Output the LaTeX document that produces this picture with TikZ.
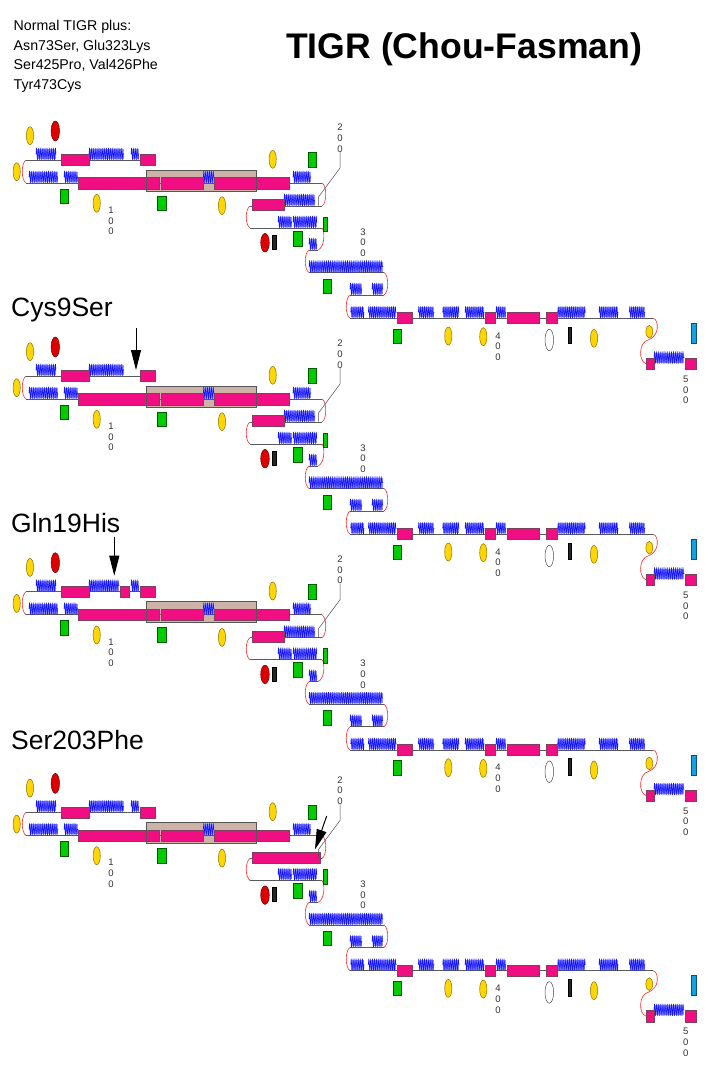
\documentclass[tikz,border=0pt]{standalone}
\usepackage{fontspec}
\setmainfont{Liberation Sans}
\usetikzlibrary{decorations.pathmorphing,arrows.meta}
\definecolor{hxc}{RGB}{20,20,255}
\definecolor{hxf}{RGB}{150,150,255}
\definecolor{stf}{RGB}{240,14,130}
\definecolor{std}{RGB}{125,65,95}
\definecolor{boxf}{RGB}{205,178,168}
\definecolor{boxd}{RGB}{85,85,85}
\definecolor{yelf}{RGB}{255,215,0}
\definecolor{yeld}{RGB}{140,110,0}
\definecolor{redf}{RGB}{220,0,0}
\definecolor{redd}{RGB}{110,0,0}
\definecolor{grnf}{RGB}{0,204,0}
\definecolor{grnd}{RGB}{0,90,0}
\definecolor{cyf}{RGB}{20,160,225}
\definecolor{cyd}{RGB}{10,80,120}
\definecolor{coilc}{RGB}{90,90,90}
\definecolor{turnc}{RGB}{255,40,40}
\definecolor{digc}{RGB}{50,50,50}
\tikzset{
 helixst/.style={draw=hxc, line width=0.55pt, decorate, decoration={zigzag, segment length=1.9pt, amplitude=6pt}},
 helixbg/.style={fill=hxf},
 strandst/.style={fill=stf, draw=std, line width=0.6pt},
 coilst/.style={draw=coilc, line width=0.7pt},
 turnst/.style={draw=turnc, line width=0.6pt},
 yel/.style={fill=yelf, draw=yeld, line width=0.5pt},
 rede/.style={fill=redf, draw=redd, line width=0.5pt},
 whe/.style={fill=white, draw=black!70, line width=0.5pt},
 grn/.style={fill=grnf, draw=grnd, line width=0.5pt},
 cyn/.style={fill=cyf, draw=cyd, line width=0.5pt},
 blk/.style={fill=black!85, draw=black},
 tickst/.style={draw=black!70, line width=0.5pt},
 digit/.style={text=digc, font=\fontsize{9.5}{10.7}\selectfont, align=center, inner sep=0pt},
 mutarrow/.style={draw=black, line width=1pt, -{Triangle[length=20pt,width=10pt]}},
 bigtxt/.style={anchor=base west, inner sep=0pt, font=\fontsize{26.5}{26.5}\selectfont},
 hdrtxt/.style={anchor=base west, inner sep=0pt, font=\fontsize{14.2}{14.2}\selectfont}
}
\newcommand\Hx[3]{\fill[helixbg] (#1+0.5,#3-11) rectangle (#2-0.5,#3-1); \draw[helixst] (#1,#3-6) -- (#2,#3-6);}
\newcommand\Sd[3]{\draw[strandst] (#1,#3-5.6) rectangle (#2,#3+5.6);}
\newcommand\Cl[3]{\draw[coilst] (#1,#3) -- (#2,#3);}
\newcommand\Tn[5]{\draw[turnst] (#1,#2) .. controls (#5,#2+3) and (#5,#4-3) .. (#3,#4);}
\newcommand\Ell[5]{\draw[#1] (#2,#3) ellipse [x radius=#4pt, y radius=#5pt];}
\newcommand\Panel[2]{%
 \begin{scope}[yshift=-#1pt]
 \fill[boxf] (146,170) rectangle (256,191);
 % coil lines
 \Cl{26}{155}{160}
 \Cl{26}{322}{183}
 \Cl{250}{322}{206}
 \Cl{250}{322}{228}
 \Cl{309}{318}{250}
 \Cl{309}{384}{272.5}
 \Cl{350}{384}{295}
 \Cl{350}{653.3}{318.3}
 % turns
 \Tn{26}{160}{26}{183}{21}
 \Tn{322}{183}{322}{206}{327}
 \Tn{250}{206}{250}{228}{245}
 \Tn{322}{228}{318}{250}{325}
 \Tn{309}{250}{309}{272.5}{304}
 \Tn{384}{272.5}{384}{295}{389}
 \Tn{350}{295}{350}{318.3}{345}
 \draw[turnst] (653.3,318.3) .. controls (659,320) and (660,336) .. (648,340) .. controls (639,342) and (638,361) .. (646,363.8);
 % row 1
 \Hx{36}{56}{160}
 \ifnum#2=2\relax
   \Hx{89}{119.3}{160}
   \Sd{120}{129}{160}
 \else
   \Hx{89}{124}{160}
 \fi
 \ifnum#2=1\relax\else \Hx{131}{139}{160}\fi
 \Sd{61}{89}{160}
 \Sd{140}{155}{160}
 % row 2
 \Hx{29}{58}{183}
 \Hx{64}{78}{183}
 \Hx{203.3}{214.3}{183}
 \Hx{293}{311}{183}
 \Sd{78}{159.3}{183.3}
 \Sd{161.7}{203.3}{183.3}
 \Sd{214.3}{289.3}{183.3}
 % row 3
 \ifnum#2=3\relax
   \Sd{252.5}{320}{205}
 \else
   \Hx{284}{315}{206}
   \Sd{252}{284}{205}
 \fi
 % row 4 - 7
 \Hx{278}{292}{228}
 \Hx{293}{317}{228}
 \Hx{309}{317}{250}
 \Hx{309}{383}{272.5}
 \Hx{350}{362}{295}
 \Hx{372}{383}{295}
 % row 8
 \Hx{350.7}{364}{318.3}
 \Hx{368.3}{396.7}{318.3}
 \Hx{418.3}{434.3}{318.3}
 \Hx{442.7}{459.3}{318.3}
 \Hx{465}{484.3}{318.3}
 \Hx{496}{506}{318.3}
 \Hx{557.7}{585.7}{318.3}
 \Hx{599}{618.3}{318.3}
 \Hx{629.3}{645}{318.3}
 \Sd{397}{412.3}{318}
 \Sd{485}{495.7}{318}
 \Sd{507.3}{539.3}{318}
 \Sd{546}{557.3}{318}
 % row 9
 \Hx{654}{684.3}{363.5}
 \Sd{646}{654}{363.8}
 \Sd{685}{696}{363.8}
 % box border
 \draw[draw=boxd, line width=0.7pt] (146,170) rectangle (256,191);
 % symbols
 \Ell{yel}{30}{135.7}{3.6}{9}
 \Ell{rede}{55.3}{131}{4.2}{10}
 \Ell{yel}{16.7}{171.7}{3.6}{9}
 \Ell{yel}{272.7}{159.3}{3.6}{9}
 \Ell{yel}{96.7}{203.3}{3.6}{9}
 \Ell{yel}{222}{205.7}{3.6}{9}
 \Ell{rede}{265}{242.7}{4.3}{9.3}
 \Ell{yel}{448.3}{336}{3.6}{9}
 \Ell{yel}{483.3}{336.7}{3.6}{9}
 \Ell{whe}{549.3}{340}{4.3}{10.8}
 \Ell{yel}{594}{338.3}{3.6}{9}
 \Ell{yel}{649.3}{331.7}{3.4}{6.4}
 \draw[grn] (308.3,152.7) rectangle (316.7,167.3);
 \draw[grn] (60,189) rectangle (68.3,203.7);
 \draw[grn] (157.3,196) rectangle (166,210.7);
 \draw[grn] (323.3,217) rectangle (327.7,231.7);
 \draw[grn] (293.3,231) rectangle (302.3,246);
 \draw[grn] (323.3,279) rectangle (331,293.3);
 \draw[grn] (393.3,329) rectangle (401.7,343.3);
 \draw[blk] (272.3,235) rectangle (275.7,249);
 \draw[blk] (567.7,326.7) rectangle (571,343.3);
 \draw[cyn] (691.7,323.3) rectangle (696,343.3);
 % residue numbers
 \node[digit] (n100-#2) at (111,221) {1\\0\\0};
 \node[digit] (n200-#2) at (340,138.3) {2\\0\\0};
 \node[digit] (n300-#2) at (363,242.5) {3\\0\\0};
 \node[digit] (n400-#2) at (498,346.7) {4\\0\\0};
 \node[digit] (n500-#2) at (685.7,390) {5\\0\\0};
 \coordinate (t1-#2) at (340,168);
 \coordinate (t2-#2) at (318.3,197.3);
 \coordinate (t3-#2) at (318.3,205.7);
 \draw[tickst] (n200-#2.south) ++(0,-1) -- (t1-#2) -- (t2-#2) -- (t3-#2);
 % mutation arrows
 \ifnum#2=1\relax
   \coordinate (a1-#2) at (136,111.7);
   \coordinate (a2-#2) at (136,154);
   \draw[mutarrow] (a1-#2) -- (a2-#2);
 \fi
 \ifnum#2=2\relax
   \coordinate (a1-#2) at (114.3,105);
   \coordinate (a2-#2) at (114.3,144);
   \draw[mutarrow] (a1-#2) -- (a2-#2);
 \fi
 \ifnum#2=3\relax
   \coordinate (a1-#2) at (326.7,163.6);
   \coordinate (a2-#2) at (315,197);
   \draw[mutarrow] (a1-#2) -- (a2-#2);
 \fi
 \end{scope}}
\begin{document}
\begin{tikzpicture}[x=1pt,y=-1pt]
\fill[white] (0,0) rectangle (707,1074);
\useasboundingbox (0,0) rectangle (707,1074);
\node[hdrtxt] (h1) at (13.5,30) {Normal TIGR plus:};
\node[hdrtxt] (h2) at (13.5,50) {Asn73Ser, Glu323Lys};
\node[hdrtxt] (h3) at (13.5,69.5) {Ser425Pro, Val426Phe};
\node[hdrtxt] (h4) at (13.5,89) {Tyr473Cys};
\node[anchor=base west, inner sep=0pt, font=\bfseries\fontsize{35.6}{35.6}\selectfont] (title) at (286,58.3) {TIGR (Chou-Fasman)};
\node[bigtxt] (lab1) at (11,316.7) {Cys9Ser};
\node[bigtxt] (lab2) at (11,532.7) {Gln19His};
\node[bigtxt] (lab3) at (11,749) {Ser203Phe};
\Panel{0}{0}
\Panel{216}{1}
\Panel{431.7}{2}
\Panel{652.4}{3}
\end{tikzpicture}
\end{document}
